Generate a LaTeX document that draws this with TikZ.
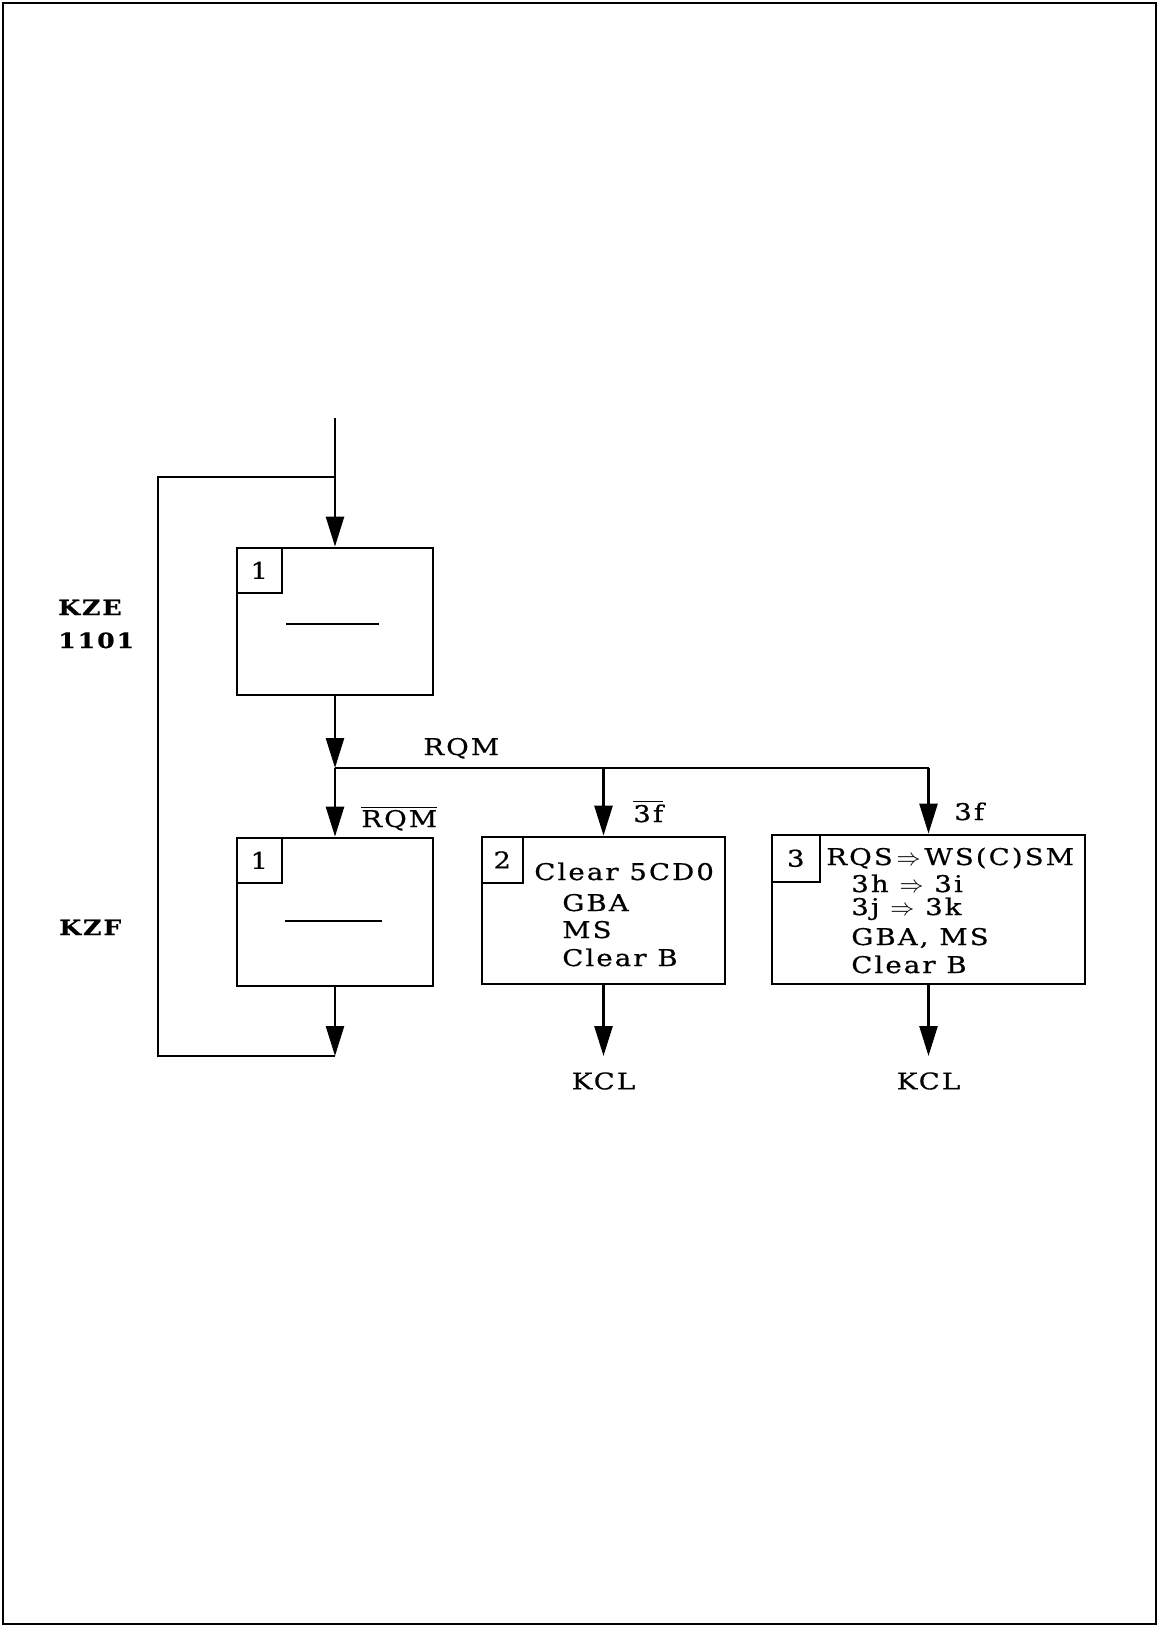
\documentclass[tikz,border=0pt]{standalone}
\usepackage{fontspec}
\setmainfont{DejaVu Serif}[LetterSpace=9, FakeStretch=1.2, FakeBold=0.6]
\usepackage{tikz}
\usetikzlibrary{arrows.meta}
\usetikzlibrary{calc}

\newcommand{\bartext}[1]{$\overline{\mbox{#1}}$}

\begin{document}
\begin{tikzpicture}[x=0.5pt, y=-0.5pt, line width=1.3pt, >={Triangle[length=15pt,width=9pt]}]
		\tikzstyle{block}=[draw, line width=1.4pt, inner sep=0pt, minimum width=98pt, minimum height=73.5pt]
		\tikzstyle{numbox}=[draw, line width=1.2pt, anchor=north west, inner sep=0pt, minimum width=22.5pt, minimum height=22.5pt]
		\tikzstyle{txt}=[anchor=base west, inner sep=0pt]
		\tikzstyle{side}=[txt, font=\fontsize{10.5}{12}\selectfont\bfseries]
		\tikzstyle{every node}=[font=\fontsize{11.5}{13}\selectfont]

    % page frame
		\useasboundingbox (0,0) rectangle (1159,1627);
		\draw (3,3) rectangle (1156,1624);

    % Boxes
		\node[block](b1) at (335,621.5){};
		\node[numbox](n1) at (b1.north west){1};
		\node[block, minimum height=74pt](b1b) at (335,912){};
		\node[numbox](n1b) at (b1b.north west){1};
		\node[block, minimum width=121.5pt](b2) at (603.5,910.5){};
		\node[numbox, minimum width=20.5pt, minimum height=23pt](n2) at (b2.north west){2};
		\node[block, minimum width=156.5pt, minimum height=74.5pt](b3) at (928.5,909.5){};
		\node[numbox, minimum width=24pt, minimum height=23.5pt](n3) at (b3.north west){3};

		\draw[line width=1pt] (286,624) -- (379,624);
		\draw[line width=1pt] (285,921) -- (382,921);

    % Box texts
		\node[txt](t2a) at (533,880){Clear 5CD0};
		\node[txt](t2b) at (561,911){GBA};
		\node[txt](t2c) at (561,938){MS};
		\node[txt](t2d) at (561,966){Clear B};

		\node[txt](t3a) at (825,865){RQS\,$\Rightarrow$\,WS(C)SM};
		\node[txt](t3b) at (850,892){3h $\Rightarrow$ 3i};
		\node[txt](t3c) at (850,915){3j $\Rightarrow$ 3k};
		\node[txt](t3d) at (850,945){GBA, MS};
		\node[txt](t3e) at (850,973){Clear B};

    % Labels
		\node[txt](rqm) at (422,755){RQM};
		\node[txt](nrqm) at (360,827){\bartext{RQM}};
		\node[txt](n3f) at (632,822){\bartext{3f}};
		\node[txt](l3f) at (953,820){3f};
		\node[side](kze) at (57,615){KZE};
		\node[side](kze2) at (57,648){1101};
		\node[side](kzf) at (58,935){KZF};
		\node[anchor=north, inner xsep=0pt, inner ysep=7.5pt](kcl2) at (603.5,1056){KCL};
		\node[anchor=north, inner xsep=0pt, inner ysep=7.5pt](kcl3) at (928.5,1056){KCL};

    % Junctions
		\coordinate(in) at (335,418);
		\coordinate(top) at (335,477);
		\coordinate(jn) at (335,768);
		\coordinate(bot) at (335,1056);
		\coordinate(lt) at (158,477);
		\coordinate(lb) at (158,1056);

    % Connections
		\draw[->] (in) -- (b1.north);
		\draw[->] (b1.south) -- (jn);
		\draw[->] (jn) -- (b1b.north);
		\draw (jn) -- (b3.north |- jn);
		\draw[->] (b2.north |- jn) -- (b2.north);
		\draw[->] (b3.north |- jn) -- (b3.north);
		\draw[->] (b1b.south) -- (bot);
		\draw (bot) -- (lb) -- (lt) -- (top);
		\draw[->] (b2.south) -- (kcl2.north);
		\draw[->] (b3.south) -- (kcl3.north);

\end{tikzpicture}
\end{document}
